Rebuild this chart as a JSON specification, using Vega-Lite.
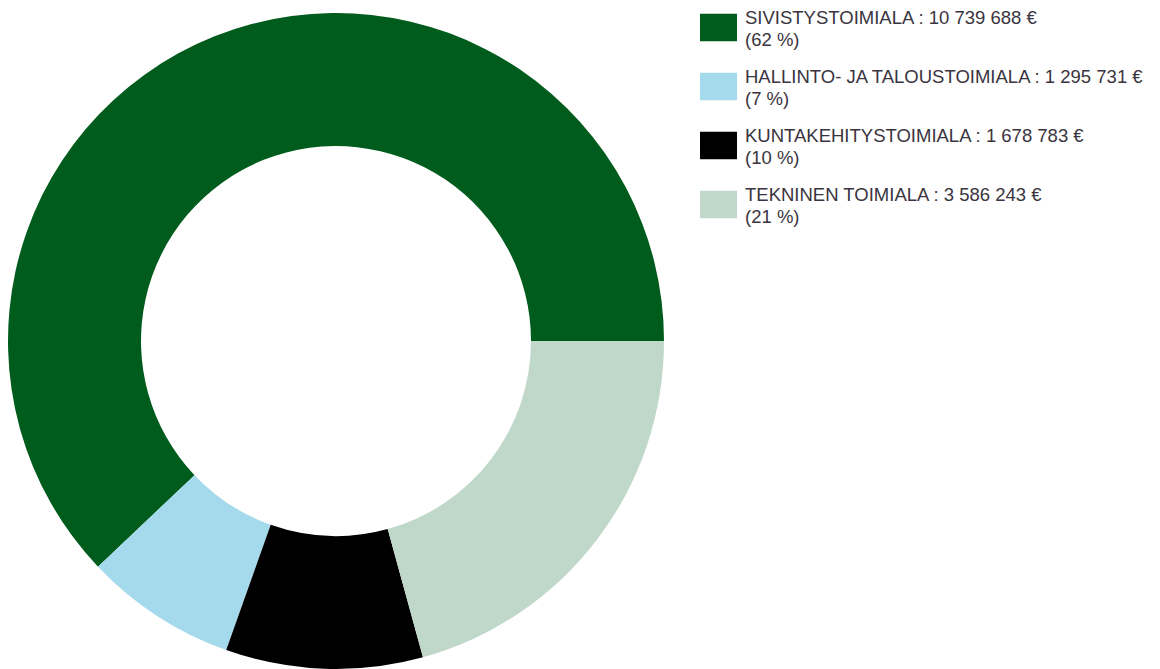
{
  "$schema": "https://vega.github.io/schema/vega-lite/v6.json",
  "width": 672,
  "height": 682,
  "padding": 0,
  "autosize": {"type": "pad"},
  "background": "white",
  "config": {
    "style": {"guide-label": {"lineHeight": 22.5}}
  },
  "data": {
    "values": [
      {"toimiala": "SIVISTYSTOIMIALA", "euro": 10739688, "pct": 62, "order": 4, "legend": 1},
      {"toimiala": "HALLINTO- JA TALOUSTOIMIALA", "euro": 1295731, "pct": 7, "order": 3, "legend": 2},
      {"toimiala": "KUNTAKEHITYSTOIMIALA", "euro": 1678783, "pct": 10, "order": 2, "legend": 3},
      {"toimiala": "TEKNINEN TOIMIALA", "euro": 3586243, "pct": 21, "order": 1, "legend": 4}
    ]
  },
  "transform": [
    {"calculate": "datum.toimiala + ' : ' + replace(format(datum.euro, ','), /,/g, ' ') + ' €|(' + datum.pct + ' %)'", "as": "label"}
  ],
  "mark": {"type": "arc", "radius": 328, "radius2": 195, "stroke": null},
  "encoding": {
    "theta": {"field": "euro", "type": "quantitative", "stack": true, "scale": {"range": [1.5707963, 7.8539816]}},
    "order": {"field": "order", "type": "quantitative"},
    "color": {
      "field": "label",
      "type": "nominal",
      "sort": {"field": "legend"},
      "scale": {
        "domain": [
          "SIVISTYSTOIMIALA : 10 739 688 €|(62 %)",
          "HALLINTO- JA TALOUSTOIMIALA : 1 295 731 €|(7 %)",
          "KUNTAKEHITYSTOIMIALA : 1 678 783 €|(10 %)",
          "TEKNINEN TOIMIALA : 3 586 243 €|(21 %)"
        ],
        "range": ["#005c1c", "#a4daeb", "#000000", "#c0d8c9"]
      },
      "legend": {
        "title": null,
        "orient": "none",
        "legendX": 700,
        "legendY": 9,
        "labelExpr": "split(datum.label, '|')",
        "labelFont": "Liberation Sans",
        "labelFontSize": 18.5,
        "labelBaseline": "bottom",
        "labelColor": "#3a3440",
        "labelLimit": 460,
        "labelOffset": 8,
        "symbolType": "M-1,-0.74L1,-0.74L1,0.74L-1,0.74Z",
        "symbolSize": 1369,
        "symbolStrokeWidth": 0,
        "rowPadding": 17
      }
    }
  }
}
